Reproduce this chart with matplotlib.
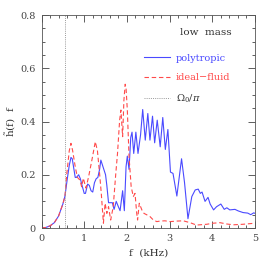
import matplotlib
matplotlib.use("Agg")
import matplotlib.pyplot as plt
from matplotlib.ticker import MultipleLocator

plt.rcParams['font.family'] = ['DejaVu Serif']
plt.rcParams['mathtext.fontset'] = 'dejavuserif'

f_poly = [0, 0.1, 0.2, 0.3, 0.4, 0.5, 0.55, 0.6, 0.65, 0.69, 0.72, 0.76, 0.79,
          0.82, 0.87, 0.91, 0.95, 1.0, 1.03, 1.08, 1.12, 1.16, 1.2, 1.24, 1.28,
          1.32, 1.36, 1.39, 1.43, 1.47, 1.5, 1.53, 1.57, 1.62, 1.66, 1.70, 1.75,
          1.80, 1.84, 1.90, 1.94, 1.98, 2.01, 2.05, 2.09, 2.12, 2.16, 2.21, 2.26,
          2.32, 2.37, 2.43, 2.49, 2.54, 2.60, 2.65, 2.71, 2.78, 2.84, 2.90, 2.96,
          3.02, 3.08, 3.17, 3.28, 3.35, 3.43, 3.52, 3.60, 3.67, 3.72, 3.76, 3.83,
          3.90, 3.95, 4.03, 4.10, 4.20, 4.28, 4.34, 4.41, 4.53, 4.61, 4.72, 4.83,
          4.90, 4.97, 5.0]
h_poly = [0, 0.002, 0.008, 0.02, 0.045, 0.09, 0.12, 0.18, 0.235, 0.265, 0.26,
          0.22, 0.19, 0.19, 0.20, 0.185, 0.16, 0.13, 0.13, 0.165, 0.16, 0.14,
          0.135, 0.17, 0.185, 0.19, 0.22, 0.255, 0.235, 0.215, 0.2, 0.16, 0.095,
          0.095, 0.095, 0.07, 0.10, 0.08, 0.065, 0.14, 0.065, 0.23, 0.27, 0.22,
          0.34, 0.36, 0.28, 0.36, 0.28, 0.35, 0.445, 0.33, 0.43, 0.33, 0.42, 0.32,
          0.405, 0.305, 0.415, 0.295, 0.37, 0.21, 0.205, 0.12, 0.26, 0.17, 0.035,
          0.118, 0.143, 0.146, 0.13, 0.135, 0.10, 0.115, 0.09, 0.068, 0.08, 0.09,
          0.07, 0.076, 0.068, 0.07, 0.064, 0.058, 0.056, 0.05, 0.057, 0.055]

f_ideal = [0, 0.1, 0.2, 0.3, 0.4, 0.5, 0.55, 0.59, 0.65, 0.69, 0.73, 0.79, 0.84,
           0.9, 0.94, 0.98, 1.04, 1.1, 1.18, 1.26, 1.31, 1.36, 1.4, 1.45, 1.49,
           1.53, 1.57, 1.62, 1.68, 1.74, 1.78, 1.83, 1.86, 1.9, 1.93, 1.96, 1.98,
           2.01, 2.05, 2.1, 2.15, 2.19, 2.23, 2.25, 2.29, 2.35, 2.4, 2.46, 2.54,
           2.62, 2.7, 2.78, 2.89, 3.01, 3.17, 3.32, 3.48, 3.63, 3.87, 4.02, 4.18,
           4.34, 4.49, 4.72, 5.0]
h_ideal = [0, 0.002, 0.008, 0.02, 0.045, 0.09, 0.12, 0.2, 0.29, 0.318, 0.29,
           0.23, 0.19, 0.18, 0.155, 0.187, 0.15, 0.19, 0.255, 0.324, 0.29, 0.205,
           0.13, 0.018, 0.093, 0.055, 0.08, 0.03, 0.08, 0.205, 0.28, 0.405, 0.443,
           0.343, 0.48, 0.54, 0.525, 0.443, 0.268, 0.155, 0.118, 0.13, 0.055, 0.03,
           0.093, 0.068, 0.055, 0.05, 0.043, 0.03, 0.024, 0.026, 0.027, 0.024,
           0.026, 0.027, 0.02, 0.011, 0.014, 0.018, 0.02, 0.015, 0.012, 0.014,
           0.018]

omega0_over_pi = 0.555

fig = plt.figure(figsize=(2.69, 2.69), dpi=100)
ax = fig.add_axes([41.5 / 269, 41 / 269, 213.5 / 269, 213 / 269])

ax.plot(f_poly, h_poly, color='#4a4aff', lw=0.8, label='polytropic')
ax.plot(f_ideal, h_ideal, color='#ff4a4a', lw=0.8, ls=(0, (4, 2.5)), label='ideal\u2212fluid')
ax.axvline(omega0_over_pi, color='#999999', lw=0.7, ls=(0, (1, 1.2)), label=r'$\Omega_0/\pi$')

ax.set_xlim(0, 5)
ax.set_ylim(0, 0.8)
ax.xaxis.set_major_locator(MultipleLocator(1))
ax.xaxis.set_minor_locator(MultipleLocator(0.2))
ax.set_yticks([0, 0.2, 0.4, 0.6, 0.8])
ax.set_yticklabels(['0', '0.2', '0.4', '0.6', '0.8'])
ax.yaxis.set_minor_locator(MultipleLocator(0.05))
ax.tick_params(which='both', direction='in', top=True, right=True,
               labelsize=7, colors='#444444', width=0.6)
ax.tick_params(which='major', length=5, pad=4)
ax.tick_params(which='minor', length=2.5)
for s in ax.spines.values():
    s.set_linewidth(0.6)
    s.set_color('#555555')

ax.set_xlabel('f  (kHz)', fontsize=7.5, color='#333333', labelpad=4)
ax.set_ylabel(r'$\tilde{\mathrm{h}}$(f)  f', fontsize=7.5, color='#333333', labelpad=2)

ax.text(0.89, 0.92, 'low  mass', transform=ax.transAxes, ha='right', va='center',
        fontsize=7.5, color='#333333')
ax.legend(loc='upper right', bbox_to_anchor=(0.915, 0.85), frameon=False,
          fontsize=7, handlelength=2.6, handletextpad=0.6, labelspacing=1.05,
          borderpad=0.2, labelcolor=['#4a4aff', '#ff4a4a', '#333333'])

fig.savefig('out.png', dpi=100)
